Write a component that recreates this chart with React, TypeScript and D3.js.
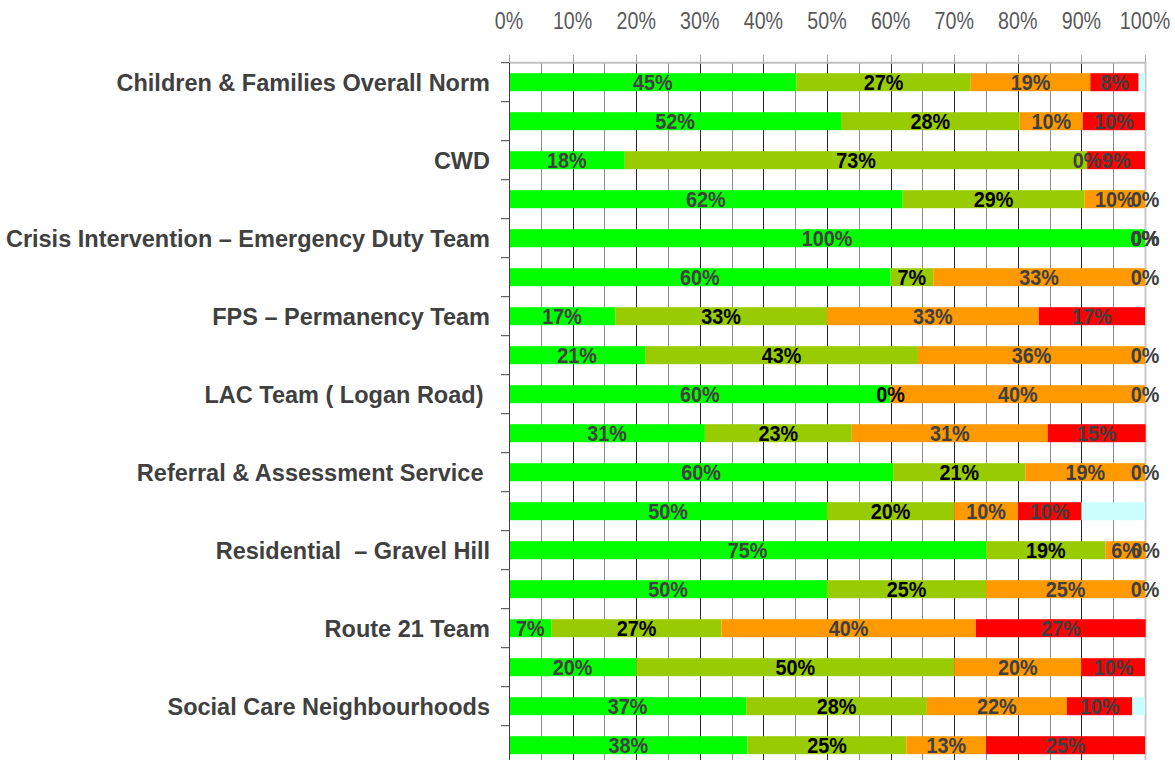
import React from "react";
import * as d3 from "d3";

const categories = [
  "Children & Families Overall Norm",
  "",
  "CWD",
  "",
  "Crisis Intervention – Emergency Duty Team",
  "",
  "FPS – Permanency Team",
  "",
  "LAC Team ( Logan Road) ",
  "",
  "Referral & Assessment Service ",
  "",
  "Residential  – Gravel Hill",
  "",
  "Route 21 Team",
  "",
  "Social Care Neighbourhoods",
  "",
];

const green = [45.2, 52.2, 18.2, 61.9, 100, 60, 16.7, 21.4, 60, 30.8, 60.4, 50, 75, 50, 6.7, 20, 37.3, 37.5];
const yellowGreen = [27.4, 28.1, 72.7, 28.6, 0, 6.7, 33.3, 42.9, 0, 23.1, 20.8, 20, 18.8, 25, 26.7, 50, 28.4, 25];
const orange = [18.8, 9.9, 0, 9.5, 0, 33.3, 33.3, 35.7, 40, 30.8, 18.8, 10, 6.3, 25, 40, 20, 22.0, 12.5];
const red = [7.6, 9.8, 9.1, 0, 0, 0, 16.7, 0, 0, 15.4, 0, 10, 0, 0, 26.7, 10, 10.3, 25];
const other = [1.0, 0, 0, 0, 0, 0, 0, 0, 0, 0, 0, 10, 0, 0, 0, 0, 2.0, 0];

const xTicks = [0, 10, 20, 30, 40, 50, 60, 70, 80, 90, 100];

const seriesKeys = ["green", "yellowGreen", "orange", "red", "other"];
const seriesColors: Record<string, string> = {
  green: "#00ff00",
  yellowGreen: "#99cc00",
  orange: "#ff9900",
  red: "#ff0000",
  other: "#ccffff",
};
const labelColors: Record<string, string | null> = {
  green: "#404040",
  yellowGreen: "#000000",
  orange: "#404040",
  red: "#404040",
  other: null,
};

export default function App() {
  const W = 1175;
  const H = 760;
  const x0 = 509;
  const x1 = 1145;
  const top = 62.7;
  const step = 39;

  const rows = categories.map((c, i) => ({
    idx: i,
    green: green[i],
    yellowGreen: yellowGreen[i],
    orange: orange[i],
    red: red[i],
    other: other[i],
  }));

  const x = d3.scaleLinear().domain([0, 100]).range([x0, x1]);
  const y = d3
    .scaleBand<number>()
    .domain(rows.map((r) => r.idx))
    .range([top, top + step * rows.length])
    .paddingInner(21 / 39)
    .paddingOuter(21 / 78);

  const stacked = d3.stack<any>().keys(seriesKeys)(rows);
  const gridVals = d3.range(0, 101, 5);
  const bw = y.bandwidth();

  return (
    <svg
      width={W}
      height={H}
      style={{ position: "absolute", left: 0, top: 0, background: "#fff" }}
    >
      {/* grid */}
      {gridVals.map((v) => (
        <line
          key={"g" + v}
          x1={Math.round(x(v)) + 0.5}
          x2={Math.round(x(v)) + 0.5}
          y1={top}
          y2={H}
          stroke={v === 100 ? "#c8c8c8" : v % 10 === 0 ? "#262626" : "#8c8c8c"}
          strokeWidth={v === 100 ? 2 : 1}
        />
      ))}
      {/* top axis */}
      <line x1={x0} x2={x1 + 1} y1={top} y2={top} stroke="#c0c0c0" strokeWidth={2} />
      {xTicks.map((t) => (
        <line
          key={"tt" + t}
          x1={Math.round(x(t)) + 0.5}
          x2={Math.round(x(t)) + 0.5}
          y1={55}
          y2={top}
          stroke="#a6a6a6"
          strokeWidth={1}
        />
      ))}
      {xTicks.map((t) => (
        <g key={"tl" + t} transform={`translate(${x(t)},29) scale(0.82,1)`}>
          <text
            textAnchor="middle"
            fontFamily="'Liberation Sans', Arial, sans-serif"
            fontSize={24}
            fill="#595959"
          >
            {t + "%"}
          </text>
        </g>
      ))}
      {/* bars */}
      {stacked.map((s) =>
        s.map((d, i) => (
          <rect
            key={s.key + i}
            x={x(d[0])}
            y={y(i)!}
            width={Math.max(0, x(d[1]) - x(d[0]))}
            height={bw}
            fill={seriesColors[s.key]}
          />
        ))
      )}
      {/* left axis */}
      <line x1={x0 + 0.5} x2={x0 + 0.5} y1={top} y2={H} stroke="#404040" strokeWidth={1} />
      {d3.range(rows.length + 1).map((i) => (
        <line
          key={"lt" + i}
          x1={501}
          x2={x0}
          y1={top + i * step}
          y2={top + i * step}
          stroke="#404040"
          strokeWidth={1}
        />
      ))}
      {/* category labels */}
      {rows.map((r) => (
        <text
          key={"c" + r.idx}
          x={490}
          y={y(r.idx)! + bw / 2 + 8.3}
          textAnchor="end"
          fontFamily="'Liberation Sans', Arial, sans-serif"
          fontWeight="bold"
          fontSize={23.5}
          fill="#404040"
          style={{ whiteSpace: "pre" }}
        >
          {categories[r.idx]}
        </text>
      ))}
      {/* data labels */}
      {stacked.map((s) =>
        labelColors[s.key]
          ? s.map((d, i) => (
              <g
                key={"dl" + s.key + i}
                transform={`translate(${(x(d[0]) + x(d[1])) / 2},${y(i)! + bw / 2 + 7.8}) scale(0.9,1)`}
              >
                <text
                  textAnchor="middle"
                  fontFamily="'Liberation Sans', Arial, sans-serif"
                  fontWeight="bold"
                  fontSize={22}
                  fill={labelColors[s.key]!}
                >
                  {Math.round(d[1] - d[0]) + "%"}
                </text>
              </g>
            ))
          : null
      )}
    </svg>
  );
}
